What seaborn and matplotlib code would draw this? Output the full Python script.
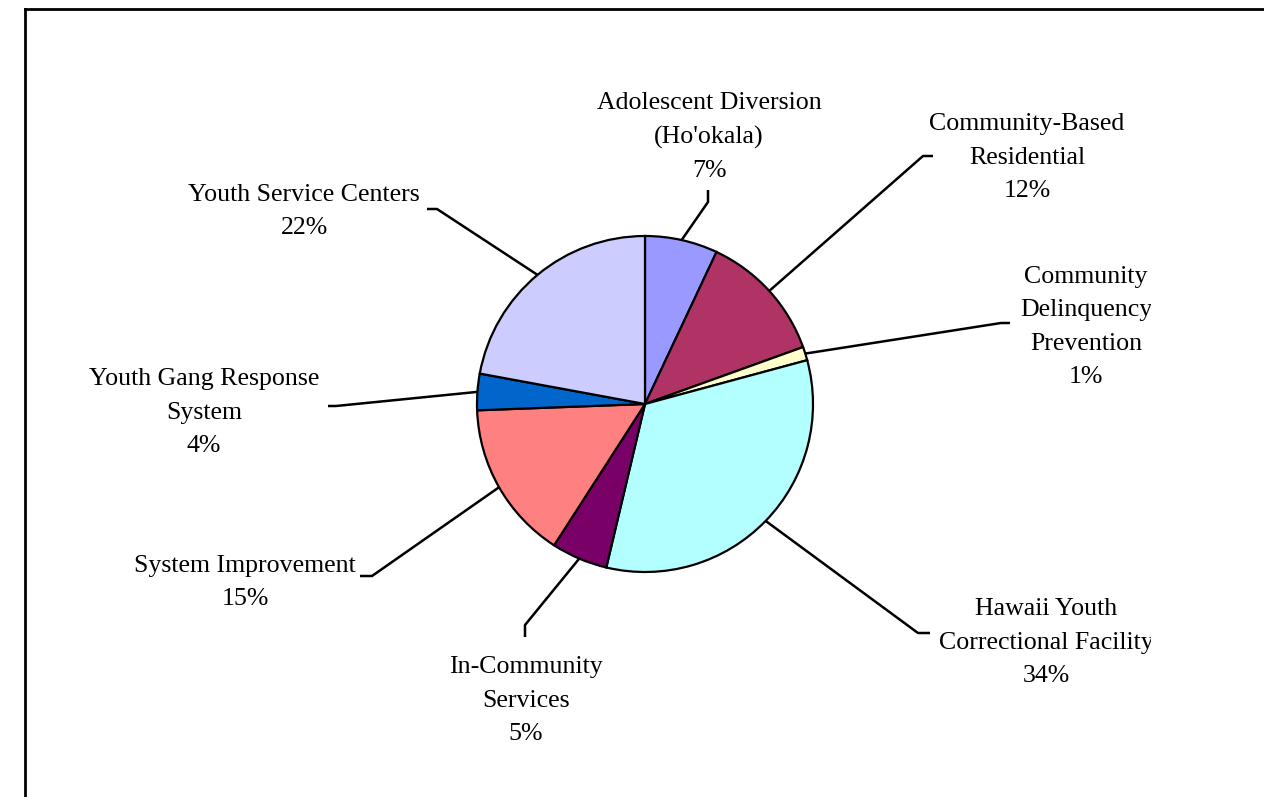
import matplotlib
matplotlib.use("Agg")
import matplotlib.pyplot as plt
import seaborn as sns
import numpy as np
from matplotlib.patches import Rectangle

# ---- data ----
categories = [
    "Adolescent Diversion\n(Ho'okala)",
    "Community-Based\nResidential",
    "Community\nDelinquency\nPrevention",
    "Hawaii Youth\nCorrectional Facility",
    "In-Community\nServices",
    "System Improvement",
    "Youth Gang Response\nSystem",
    "Youth Service Centers",
]
shares = [7.0, 12.5, 1.3, 32.9, 5.4, 15.3, 3.5, 22.1]
pct_labels = ["7%", "12%", "1%", "34%", "5%", "15%", "4%", "22%"]
slice_colors = ["#9999FF", "#B03366", "#FFFFCC", "#B3FFFF",
                "#780066", "#FF8080", "#0066CC", "#CCCCFF"]

# ---- layout (pixel coordinates, y measured from top) ----
W, H = 1264, 797
label_pos = [  # (x centre, last-line baseline y)
    (709, 177), (1027, 197), (1086, 383), (1046, 682),
    (526, 740), (245, 605), (204, 452), (304, 234),
]
elbows = [  # leader-line points from label side toward the pie
    [(708, 190), (708, 202)],
    [(933, 156), (923, 156)],
    [(1010, 323), (1001, 323)],
    [(930, 633), (918, 633)],
    [(525, 637), (525, 625)],
    [(360, 576), (372, 576)],
    [(328, 406), (336, 406)],
    [(427, 209), (437, 209)],
]

sns.set_theme(style="white")
plt.rcParams["font.family"] = ["Liberation Serif", "DejaVu Serif"]

fig = plt.figure(figsize=(W / 100, H / 100), dpi=100)
fig.patch.set_facecolor("white")
ax = fig.add_axes([0, 0, 1, 1])

cx, cy, R = 645, H - 404, 168
wedges, _ = ax.pie(
    shares,
    colors=sns.color_palette(slice_colors),
    startangle=90,
    counterclock=False,
    center=(cx, cy),
    radius=R,
    wedgeprops=dict(edgecolor="black", linewidth=1.6),
)
ax.set_xlim(0, W)
ax.set_ylim(0, H)
ax.set_aspect("auto")
ax.axis("off")

clip_rect = Rectangle((0, 0), 1151, H, transform=ax.transData)

for w, cat, pct, (lx, ly), pts in zip(wedges, categories, pct_labels, label_pos, elbows):
    th = np.deg2rad((w.theta1 + w.theta2) / 2)
    ex, ey = cx + R * np.cos(th), cy + R * np.sin(th)
    xs = [p[0] for p in pts] + [ex]
    ys = [H - p[1] for p in pts] + [ey]
    ax.plot(xs, ys, color="black", lw=1.8, solid_capstyle="butt", zorder=1)
    t = ax.text(lx, H - ly, f"{cat}\n{pct}", ha="center", va="baseline",
                multialignment="center", fontsize=18.6, linespacing=1.67,
                color="black", clip_on=True)
    t.set_clip_path(clip_rect)

# outer chart border (left and top visible)
ax.plot([25, 25], [0, H - 9], color="black", lw=2.0, solid_capstyle="projecting")
ax.plot([25, W], [H - 9, H - 9], color="black", lw=2.0, solid_capstyle="projecting")

fig.savefig("out.png", dpi=100, facecolor="white")
